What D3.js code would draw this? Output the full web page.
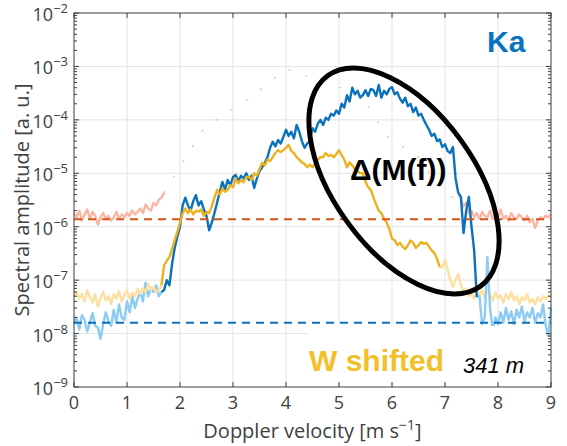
<!DOCTYPE html>
<html>
<head>
<meta charset="utf-8">
<script src="https://cdn.jsdelivr.net/npm/d3@7"></script>
<style>
  body { margin: 0; background: #fff; }
  svg { display: block; font-family: "Liberation Sans", Arial, sans-serif; }
  .axtext { font-family: "Open Sans", "Liberation Sans", sans-serif; }
</style>
</head>
<body>
<div id="chart"></div>
<script>
// spectra sampled every 0.05 m/s from 0 to 9
let step = 0.05;

// Ka band spectrum (blue)
let kaAmp = [
  1.5e-8, 2e-8, 1.2e-8, 2.2e-8, 1.8e-8, 1.1e-8, 1.6e-8, 2.4e-8, 1.4e-8, 1.3e-8,
  8e-9, 1.5e-8, 2.5e-8, 1.7e-8, 1.4e-8, 2.8e-8, 1.6e-8, 3.5e-8, 2.0e-8, 1.8e-8,
  4e-8, 2.5e-8, 5e-8, 3e-8, 4.5e-8, 6e-8, 4e-8, 9e-8, 5e-8, 7e-8,
  6e-8, 8e-8, 5e-8, 6e-8, 6.5e-8, 1e-7, 8e-8, 2e-7, 4e-7, 6.5e-7,
  1e-6, 2.5e-6, 3.5e-6, 2.5e-6, 2e-6, 3e-6, 3.9e-6, 2.5e-6, 3e-6, 2.1e-6,
  1.6e-6, 8.6e-7, 1.2e-6, 1.8e-6, 2.8e-6, 4.5e-6, 6.9e-6, 5e-6, 7.5e-6, 6e-6,
  8.5e-6, 9.3e-6, 7e-6, 9e-6, 8e-6, 1e-5, 7.5e-6, 9e-6, 5.3e-6, 8e-6,
  1.1e-5, 1.3e-5, 1.57e-5, 2e-5, 3e-5, 3.9e-5, 3.2e-5, 4.2e-5, 3.6e-5, 4.8e-5,
  6.5e-5, 5e-5, 6e-5, 4.5e-5, 8e-5, 6e-5, 4e-5, 3e-5, 3.6e-5, 4e-5,
  7e-5, 6e-5, 8.5e-5, 1e-4, 8e-5, 1.1e-4, 1e-4, 1.3e-4, 1.2e-4, 1.5e-4,
  1.3e-4, 2e-4, 1.7e-4, 2.9e-4, 2.2e-4, 4e-4, 3e-4, 3.5e-4, 2.6e-4, 2.9e-4,
  3.6e-4, 2.8e-4, 3.8e-4, 3.6e-4, 2.8e-4, 4.5e-4, 2.6e-4, 3.5e-4, 3e-4, 3.8e-4,
  4.1e-4, 3e-4, 3.3e-4, 2.5e-4, 2.1e-4, 2.6e-4, 1.8e-4, 2e-4, 1.4e-4, 1.7e-4,
  1.2e-4, 1.3e-4, 1e-4, 8e-5, 6.5e-5, 5e-5, 5.5e-5, 4e-5, 4.3e-5, 3.1e-5,
  3.5e-5, 2.6e-5, 2.4e-5, 3.1e-5, 8e-6, 4.3e-6, 3.6e-6, 7.6e-7, 2e-6, 3.6e-6,
  1e-6, 3.6e-7, 4.8e-8, 5e-8, 1.5e-8, 2e-8, 2.7e-7, 3e-8, 1.2e-8, 2e-8,
  1.5e-8, 2.5e-8, 1.6e-8, 3e-8, 1.8e-8, 2.6e-8, 1.5e-8, 2.8e-8, 2e-8, 3.2e-8,
  1.7e-8, 2.5e-8, 2e-8, 3e-8, 1.6e-8, 2.4e-8, 2e-8, 3.5e-8, 1.4e-8, 9e-9,
  3e-8
];

// W band spectrum, shifted (yellow)
let wAmp = [
  5e-8, 6e-8, 4.5e-8, 5.5e-8, 4e-8, 6.5e-8, 4.8e-8, 3.8e-8, 5.5e-8, 3.2e-8,
  4.5e-8, 6e-8, 4.2e-8, 5e-8, 3.6e-8, 5.5e-8, 4.5e-8, 6.2e-8, 4e-8, 5.2e-8,
  6.5e-8, 4.5e-8, 5.8e-8, 5e-8, 6.8e-8, 5.5e-8, 7e-8, 6e-8, 8.5e-8, 6.5e-8,
  7.5e-8, 6e-8, 6.5e-8, 8e-8, 1.9e-7, 2.3e-7, 2.7e-7, 3.8e-7, 5.6e-7, 8e-7,
  1.2e-6, 1.8e-6, 2.2e-6, 1.8e-6, 2.1e-6, 1.7e-6, 2e-6, 1.9e-6, 2.1e-6, 1.6e-6,
  1.9e-6, 1.8e-6, 2.4e-6, 3.5e-6, 4.9e-6, 4e-6, 5.2e-6, 4.5e-6, 4.9e-6, 6e-6,
  5.5e-6, 8e-6, 6.5e-6, 7.5e-6, 6.8e-6, 8.5e-6, 8.6e-6, 7.5e-6, 1e-5, 9e-6,
  1.2e-5, 1.57e-5, 1.4e-5, 1.8e-5, 1.7e-5, 2e-5, 2.4e-5, 2.7e-5, 2.5e-5, 2.7e-5,
  3e-5, 3.4e-5, 2.6e-5, 2.4e-5, 2e-5, 1.8e-5, 1.6e-5, 1.5e-5, 1.3e-5, 1.45e-5,
  1.3e-5, 1.5e-5, 1.8e-5, 2e-5, 2e-5, 2.4e-5, 2.1e-5, 2.2e-5, 2e-5, 2.3e-5,
  2.7e-5, 2.2e-5, 1.8e-5, 1.3e-5, 1.6e-5, 1.4e-5, 1.2e-5, 1.1e-5, 1e-5, 1e-5,
  7e-6, 5.5e-6, 4.9e-6, 3.5e-6, 2.6e-6, 2e-6, 1.8e-6, 1.4e-6, 1.2e-6, 9e-7,
  6e-7, 5.6e-7, 4.5e-7, 5e-7, 4.2e-7, 3.8e-7, 4.5e-7, 5.5e-7, 5e-7, 4e-7,
  4.5e-7, 5.2e-7, 4.8e-7, 5e-7, 4.2e-7, 3.6e-7, 3.2e-7, 2.5e-7, 1.75e-7, 1.7e-7,
  2.4e-7, 1.6e-7, 1e-7, 7.5e-8, 1e-7, 1.3e-7, 8e-8, 6e-8, 7e-8, 5e-8,
  5.5e-8, 4.5e-8, 6e-8, 5e-8, 6.5e-8, 4.8e-8, 6.5e-8, 5.5e-8, 4.2e-8, 5.8e-8,
  4.6e-8, 5.2e-8, 3.8e-8, 5.5e-8, 4.4e-8, 6e-8, 4.2e-8, 5e-8, 3.6e-8, 4.8e-8,
  4.2e-8, 5.5e-8, 3.8e-8, 4.5e-8, 3.5e-8, 4.8e-8, 4e-8, 5e-8, 4.4e-8, 5.2e-8,
  4.8e-8
];

// red spectrum, only the noise parts are left (0 - 1.7 and 7.3 - 9 m/s)
let redLeftStart = 0;
let redLeftAmp = [
  1.8e-6, 1.5e-6, 2e-6, 1.3e-6, 1.7e-6, 2.1e-6, 1.4e-6, 1.9e-6, 1.6e-6, 1.1e-6,
  1.5e-6, 1.8e-6, 1.4e-6, 1.6e-6, 1.3e-6, 1.5e-6, 1.9e-6, 1.4e-6, 1.7e-6, 1.5e-6,
  1.8e-6, 1.6e-6, 2e-6, 1.7e-6, 1.9e-6, 2.2e-6, 1.8e-6, 2.6e-6, 2.2e-6, 2e-6,
  2.8e-6, 2.5e-6, 3.2e-6, 3.5e-6, 4.3e-6
];
let redRightStart = 7.3;
let redRightAmp = [
  3.2e-6, 2.4e-6, 2.8e-6, 1.8e-6, 2e-6, 1.5e-6, 1.8e-6, 1.4e-6, 1.9e-6, 1.6e-6,
  1.5e-6, 2e-6, 1.4e-6, 1.7e-6, 1.5e-6, 2.1e-6, 1.4e-6, 1.6e-6, 1.3e-6, 1.8e-6,
  1.5e-6, 1.4e-6, 1.7e-6, 1.5e-6, 1.3e-6, 1.6e-6, 1.2e-6, 1.4e-6, 9.5e-7, 1.3e-6,
  1.5e-6, 1.4e-6, 1.6e-6, 1.5e-6, 1.7e-6
];
// faint leftovers of the erased red peak
let redGhostVel = [1.7, 2.45, 3.25, 4.0, 4.5, 5.4, 5.9, 6.5, 7.0, 7.3];
let redGhostAmp = [4.3e-6, 7e-5, 2.3e-4, 9e-4, 6e-4, 3e-4, 5e-5, 2e-5, 4e-6, 3.2e-6];

// noise levels
let kaNoise = 1.6e-8;
let redNoise = 1.38e-6;

let xTicks = [0, 1, 2, 3, 4, 5, 6, 7, 8, 9];
let yDecades = [-9, -8, -7, -6, -5, -4, -3, -2];

let width = 567, height = 446;
let margin = {left: 74, right: 16, top: 13, bottom: 59};

let svg = d3.select("#chart").append("svg")
    .attr("width", width)
    .attr("height", height);

let x = d3.scaleLinear().domain([0, 9]).range([margin.left, width - margin.right]);
let y = d3.scaleLog().domain([1e-9, 1e-2]).range([height - margin.bottom, margin.top]);

let x0 = x.range()[0], x1 = x.range()[1];
let yb = y.range()[0], yt = y.range()[1];

function toPoints(amps, start) {
    return amps.map(function(a, i) { return {v: start + i * step, a: a}; });
}
let kaPts = toPoints(kaAmp, 0);
let wPts = toPoints(wAmp, 0);

let line = d3.line()
    .x(function(d) { return x(d.v); })
    .y(function(d) { return y(d.a); });

function part(pts, lo, hi) {
    return pts.filter(function(d) { return d.v >= lo - 1e-9 && d.v <= hi + 1e-9; });
}

// grid
let grid = svg.append("g").attr("stroke", "#e3e3e3").attr("stroke-width", 1);
grid.selectAll("line.gx").data(xTicks.slice(1, -1)).enter().append("line")
    .attr("x1", function(d) { return x(d); }).attr("x2", function(d) { return x(d); })
    .attr("y1", yt).attr("y2", yb);
grid.selectAll("line.gy").data(yDecades.slice(1, -1)).enter().append("line")
    .attr("x1", x0).attr("x2", x1)
    .attr("y1", function(d) { return y(Math.pow(10, d)); })
    .attr("y2", function(d) { return y(Math.pow(10, d)); });

let curves = svg.append("g").attr("fill", "none").attr("stroke-width", 2.4)
    .attr("stroke-linejoin", "round");

// red spectrum pieces
curves.append("path").attr("d", line(toPoints(redLeftAmp, redLeftStart))).attr("stroke", "#f9b7a2");
curves.append("path").attr("d", line(toPoints(redRightAmp, redRightStart))).attr("stroke", "#f9b7a2");
curves.append("path")
    .attr("d", line(redGhostVel.map(function(v, i) { return {v: v, a: redGhostAmp[i]}; })))
    .attr("stroke", "#e8825a").attr("stroke-width", 1.2)
    .attr("stroke-dasharray", "2,16").attr("opacity", 0.6);

// noise parts (light)
curves.append("path").attr("d", line(part(kaPts, 0, 1.65))).attr("stroke", "#8ccbf3");
curves.append("path").attr("d", line(part(wPts, 0, 1.65))).attr("stroke", "#fde0a0");
curves.append("path").attr("d", line(part(wPts, 6.9, 9))).attr("stroke", "#fde0a0");
curves.append("path").attr("d", line(part(kaPts, 7.6, 9))).attr("stroke", "#8ccbf3");

// signal parts
curves.append("path").attr("d", line(part(kaPts, 1.65, 7.6))).attr("stroke", "#0a72bd");
curves.append("path").attr("d", line(part(wPts, 1.65, 6.9))).attr("stroke", "#edb120");

// noise levels
svg.append("line").attr("x1", x0).attr("x2", x1)
    .attr("y1", y(redNoise)).attr("y2", y(redNoise))
    .attr("stroke", "#d95319").attr("stroke-width", 2).attr("stroke-dasharray", "8,6");
svg.append("line").attr("x1", x0).attr("x2", x1)
    .attr("y1", y(kaNoise)).attr("y2", y(kaNoise))
    .attr("stroke", "#0a72bd").attr("stroke-width", 2).attr("stroke-dasharray", "8,6");

// label patch
svg.append("rect").attr("x", 308).attr("y", 326).attr("width", 236).attr("height", 57).attr("fill", "#fff");

// axes frame and ticks
let axisColor = "#3d3d3d";
let ax = svg.append("g").attr("stroke", axisColor).attr("stroke-width", 1).attr("fill", "none");
ax.append("rect").attr("x", x0).attr("y", yt).attr("width", x1 - x0).attr("height", yb - yt);

xTicks.forEach(function(t) {
    ax.append("line").attr("x1", x(t)).attr("x2", x(t)).attr("y1", yb).attr("y2", yb - 5);
    ax.append("line").attr("x1", x(t)).attr("x2", x(t)).attr("y1", yt).attr("y2", yt + 5);
});
yDecades.forEach(function(d) {
    let yy = y(Math.pow(10, d));
    ax.append("line").attr("x1", x0).attr("x2", x0 + 5).attr("y1", yy).attr("y2", yy);
    ax.append("line").attr("x1", x1).attr("x2", x1 - 5).attr("y1", yy).attr("y2", yy);
    if (d < -2) {
        for (let m = 2; m <= 9; m++) {
            let ym = y(m * Math.pow(10, d));
            ax.append("line").attr("x1", x0).attr("x2", x0 + 3).attr("y1", ym).attr("y2", ym);
            ax.append("line").attr("x1", x1).attr("x2", x1 - 3).attr("y1", ym).attr("y2", ym);
        }
    }
});

// tick labels
let labelColor = "#404040";
svg.selectAll("text.xt").data(xTicks).enter().append("text")
    .attr("class", "axtext")
    .attr("x", function(d) { return x(d); })
    .attr("y", yb + 22)
    .attr("text-anchor", "middle")
    .attr("font-size", 18)
    .attr("fill", labelColor)
    .text(function(d) { return d; });

let yl = svg.selectAll("text.yt").data(yDecades).enter().append("text")
    .attr("class", "axtext")
    .attr("x", 68)
    .attr("y", function(d) { return y(Math.pow(10, d)) + 8; })
    .attr("text-anchor", "end")
    .attr("font-size", 18)
    .attr("fill", labelColor);
yl.append("tspan").text("10");
yl.append("tspan").attr("dy", -8).attr("font-size", 13).text(function(d) { return "\u2212" + Math.abs(d); });

// axis titles
svg.append("text")
    .attr("class", "axtext")
    .attr("transform", "translate(29," + ((yt + yb) / 2) + ") rotate(-90)")
    .attr("text-anchor", "middle")
    .attr("font-size", 20)
    .attr("fill", labelColor)
    .text("Spectral amplitude [a. u.]");

let xl = svg.append("text")
    .attr("class", "axtext")
    .attr("x", (x0 + x1) / 2)
    .attr("y", 438)
    .attr("text-anchor", "middle")
    .attr("font-size", 20)
    .attr("fill", labelColor);
xl.append("tspan").text("Doppler velocity [m s");
xl.append("tspan").attr("dy", -8).attr("font-size", 14).text("\u22121");
xl.append("tspan").attr("dy", 8).text("]");

// annotations
svg.append("text").attr("x", 487).attr("y", 52)
    .attr("font-size", 30).attr("font-weight", "bold").attr("fill", "#0a72c0")
    .text("Ka");
svg.append("text").attr("x", 350).attr("y", 180)
    .attr("font-size", 30).attr("font-weight", "bold").attr("fill", "#000")
    .text("\u0394(M(f))");
svg.append("text").attr("x", 309).attr("y", 371)
    .attr("font-size", 30).attr("font-weight", "bold").attr("fill", "#f1c02a")
    .text("W shifted");
svg.append("text").attr("x", 463).attr("y", 373)
    .attr("font-size", 22).attr("font-style", "italic").attr("fill", "#000")
    .text("341 m");

svg.append("ellipse")
    .attr("transform", "translate(404,181) rotate(54)")
    .attr("rx", 130).attr("ry", 70)
    .attr("fill", "none").attr("stroke", "#000").attr("stroke-width", 5);
</script>
</body>
</html>
